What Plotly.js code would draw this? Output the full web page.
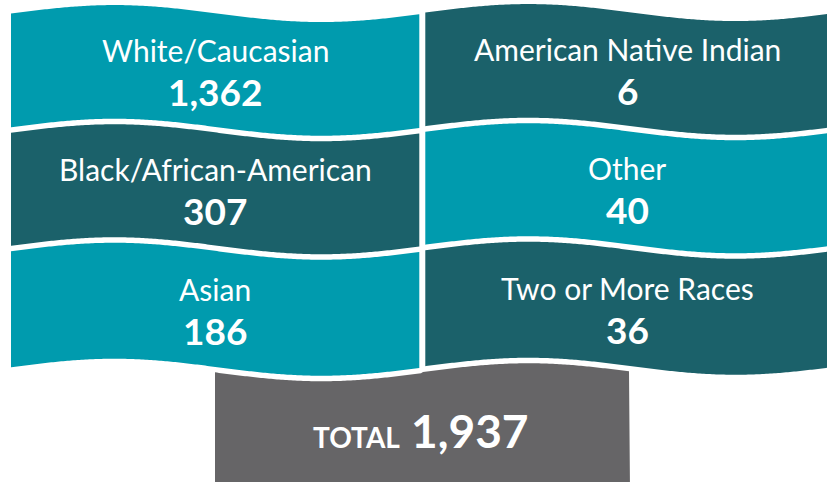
<!DOCTYPE html>
<html>
<head>
<meta charset="utf-8">
<script src="https://cdn.plot.ly/plotly-3.0.1.min.js"></script>
<style>html,body{margin:0;padding:0;background:#fff;}#chart{width:827px;height:482px;}</style>
</head>
<body>
<div id="chart"></div>
<script>
// ---- data ----
const categories = ["White/Caucasian", "Black/African-American", "Asian",
                    "American Native Indian", "Other", "Two or More Races"];
const counts = [1362, 307, 186, 6, 40, 36];
const totalLabel = "TOTAL";

// ---- styling / geometry ----
const W = 827, H = 482;
const LIGHT = "#009bae", DARK = "#1b616a", GREY = "#666567";
const A = 8.5, P = 414, X0 = 11, GAP = 5.5;
const bounds = [10.8, 130, 248.5, 370];
const cols = [{x0: 11, x1: 419.3, off: 0}, {x0: 425.3, x1: 830, off: -1}];
const rowsPerCol = 3;

function wave(x, B) { return B - A * Math.sin(2 * Math.PI * (x - X0) / P); }
function fmt(v) { return v.toLocaleString("en-US"); }

function tilePath(xa, xb, topB, botB, off) {
  let d = "";
  const step = 2;
  for (let x = xa; x <= xb + 0.001; x += step) {
    const y = wave(x, topB) + GAP / 2 + off;
    d += (d ? " L" : "M") + x.toFixed(2) + "," + y.toFixed(2);
  }
  d += " L" + xb.toFixed(2) + "," + (wave(xb, topB) + GAP / 2 + off).toFixed(2);
  for (let x = xb; x >= xa - 0.001; x -= step) {
    const y = wave(x, botB) - GAP / 2 + off;
    d += " L" + x.toFixed(2) + "," + y.toFixed(2);
  }
  d += " L" + xa.toFixed(2) + "," + (wave(xa, botB) - GAP / 2 + off).toFixed(2);
  return d + " Z";
}

const shapes = [];
const annotations = [];
const LABEL_FONT = "Lato, 'Open Sans', sans-serif";
const NUM_FONT = "Lato, 'Open Sans', sans-serif";

categories.forEach((cat, i) => {
  const c = Math.floor(i / rowsPerCol), r = i % rowsPerCol;
  const col = cols[c];
  const color = ((r + c) % 2 === 0) ? LIGHT : DARK;
  shapes.push({type: "path", xref: "x", yref: "y", layer: "below",
    path: tilePath(col.x0, col.x1, bounds[r], bounds[r + 1], col.off),
    fillcolor: color, line: {width: 0}});
  const cx = c === 0 ? 215 : 627;
  const mid = (bounds[r] + bounds[r + 1]) / 2 + col.off;
  annotations.push({x: cx, y: mid - 20, xref: "x", yref: "y", text: cat, showarrow: false,
    xanchor: "center", yanchor: "middle",
    font: {family: LABEL_FONT, size: 30, color: "#ffffff", weight: 400}});
  annotations.push({x: cx, y: mid + 21, xref: "x", yref: "y", text: fmt(counts[i]), showarrow: false,
    xanchor: "center", yanchor: "middle",
    font: {family: NUM_FONT, size: 37, color: "#ffffff", weight: 700}});
});

// total box
const total = counts.reduce((a, b) => a + b, 0);
shapes.push({type: "path", xref: "x", yref: "y", layer: "below",
  path: (function () {
    let d = "";
    for (let x = 215; x <= 630.001; x += 2) {
      const off = x > 422 ? -1 : 0;
      const y = wave(x, bounds[3]) + GAP / 2 + off;
      d += (d ? " L" : "M") + x.toFixed(2) + "," + y.toFixed(2);
    }
    d += " L630,490 L215,490 Z";
    return d;
  })(),
  fillcolor: GREY, line: {width: 0}});
annotations.push({x: 421, y: 430, xref: "x", yref: "y",
  text: "<span style='font-size:28px'>" + totalLabel + "</span> " + fmt(total),
  showarrow: false, xanchor: "center", yanchor: "middle",
  font: {family: NUM_FONT, size: 46, color: "#ffffff", weight: 700}});

const layout = {
  width: W, height: H,
  margin: {l: 0, r: 0, t: 0, b: 0, pad: 0},
  paper_bgcolor: "#ffffff", plot_bgcolor: "#ffffff",
  showlegend: false,
  xaxis: {range: [0, W], visible: false, fixedrange: true},
  yaxis: {range: [H, 0], visible: false, fixedrange: true},
  shapes: shapes,
  annotations: annotations
};

Plotly.newPlot("chart", [{x: [], y: [], type: "scatter", hoverinfo: "skip"}], layout,
  {displayModeBar: false, staticPlot: true});
</script>
</body>
</html>
